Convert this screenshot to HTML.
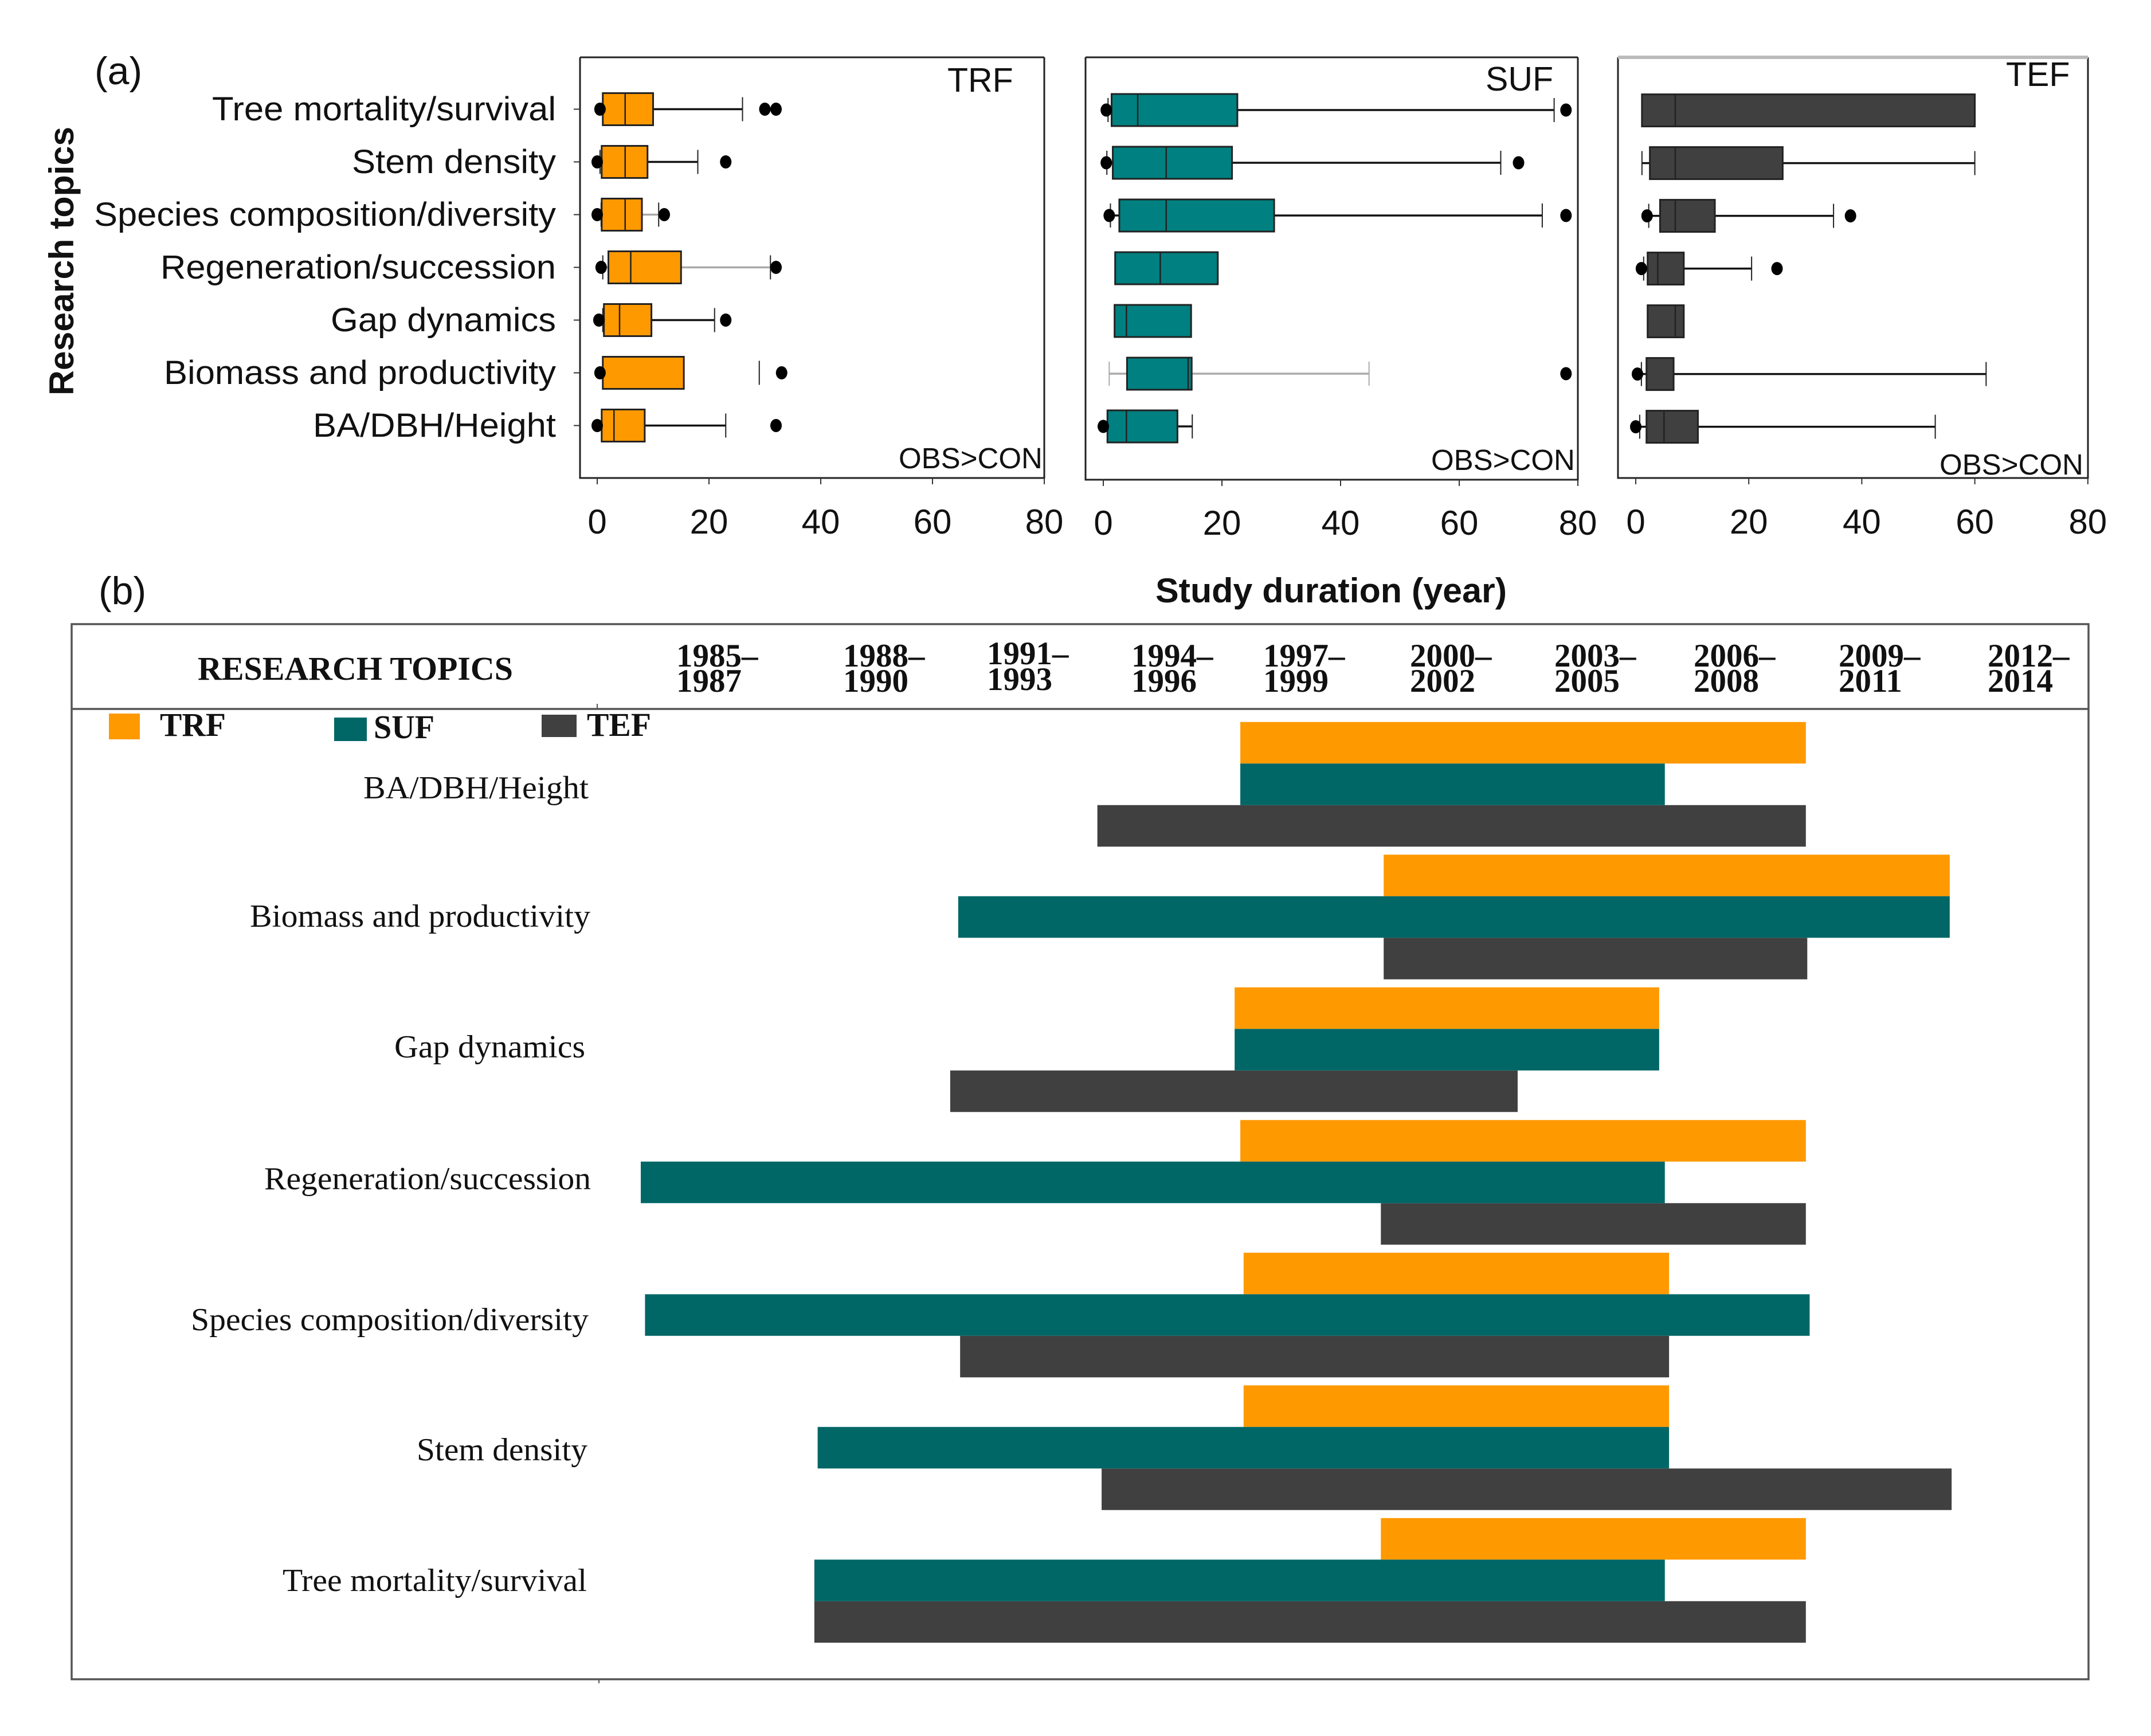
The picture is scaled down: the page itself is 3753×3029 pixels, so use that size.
<!DOCTYPE html>
<html lang="en">
<head>
<meta charset="utf-8">
<title>Study duration and research period by topic</title>
<style>
html,body{margin:0;padding:0;background:#fff;}
svg{display:block;}
.sans{font-family:"Liberation Sans",Arial,sans-serif;fill:#111;}
.serif{font-family:"Liberation Serif","Times New Roman",serif;fill:#111;}
.yr{font-family:"Liberation Serif","Times New Roman",serif;font-weight:bold;font-size:57px;fill:#111;}
.tp{font-family:"Liberation Serif","Times New Roman",serif;font-size:56px;fill:#111;}
.cat{font-family:"Liberation Sans",Arial,sans-serif;font-size:58px;fill:#111;}
</style>
</head>
<body>
<svg id="chart" xmlns="http://www.w3.org/2000/svg" width="3753" height="3029" viewBox="0 0 3753 3029">
  <rect x="0" y="0" width="3753" height="3029" fill="#fff"/>

  <text class="sans" x="165" y="147" font-size="68">(a)</text>
  <text class="sans" x="172" y="1054" font-size="68">(b)</text>
  <text class="sans" font-weight="bold" font-size="60" transform="translate(128 690) rotate(-90)" textLength="469" lengthAdjust="spacingAndGlyphs">Research topics</text>
  <text class="sans" font-weight="bold" font-size="60" x="2016" y="1051" textLength="613" lengthAdjust="spacingAndGlyphs">Study duration (year)</text>

  <g>
    <text class="cat" x="370" y="210" textLength="600" lengthAdjust="spacingAndGlyphs">Tree mortality/survival</text>
    <text class="cat" x="614" y="302" textLength="356" lengthAdjust="spacingAndGlyphs">Stem density</text>
    <text class="cat" x="164" y="394" textLength="806" lengthAdjust="spacingAndGlyphs">Species composition/diversity</text>
    <text class="cat" x="280" y="486" textLength="690" lengthAdjust="spacingAndGlyphs">Regeneration/succession</text>
    <text class="cat" x="577" y="578" textLength="393" lengthAdjust="spacingAndGlyphs">Gap dynamics</text>
    <text class="cat" x="286" y="670" textLength="684" lengthAdjust="spacingAndGlyphs">Biomass and productivity</text>
    <text class="cat" x="546" y="762" textLength="424" lengthAdjust="spacingAndGlyphs">BA/DBH/Height</text>
  </g>

  <text class="sans" x="1653" y="160" font-size="59">TRF</text>
  <text class="sans" x="2592" y="158" font-size="59">SUF</text>
  <text class="sans" x="3500" y="150" font-size="59">TEF</text>
  <text class="sans" x="1568" y="817" font-size="51">OBS&gt;CON</text>
  <text class="sans" x="2497" y="820" font-size="51">OBS&gt;CON</text>
  <text class="sans" x="3384" y="828" font-size="51">OBS&gt;CON</text>

  <g id="boxplots"></g>

  <g fill="none" stroke="#555" stroke-width="3.5">
    <rect x="125" y="1089" width="3519" height="1841"/>
    <line x1="125" y1="1237" x2="3644" y2="1237"/>
    <line x1="1045" y1="2930" x2="1045" y2="2937" stroke-width="2"/>
    <line x1="1042" y1="1236" x2="1042" y2="1228" stroke-width="2"/>
  </g>

  <text class="serif" font-weight="bold" font-size="58" x="345" y="1186" textLength="550" lengthAdjust="spacingAndGlyphs">RESEARCH TOPICS</text>

  <g>
    <text class="yr" x="1180" y="1163">1985–</text><text class="yr" x="1180" y="1207">1987</text>
    <text class="yr" x="1471" y="1163">1988–</text><text class="yr" x="1471" y="1207">1990</text>
    <text class="yr" x="1722" y="1159">1991–</text><text class="yr" x="1722" y="1204">1993</text>
    <text class="yr" x="1974" y="1163">1994–</text><text class="yr" x="1974" y="1207">1996</text>
    <text class="yr" x="2204" y="1163">1997–</text><text class="yr" x="2204" y="1207">1999</text>
    <text class="yr" x="2460" y="1163">2000–</text><text class="yr" x="2460" y="1207">2002</text>
    <text class="yr" x="2712" y="1163">2003–</text><text class="yr" x="2712" y="1207">2005</text>
    <text class="yr" x="2955" y="1163">2006–</text><text class="yr" x="2955" y="1207">2008</text>
    <text class="yr" x="3208" y="1163">2009–</text><text class="yr" x="3208" y="1207">2011</text>
    <text class="yr" x="3468" y="1163">2012–</text><text class="yr" x="3468" y="1207">2014</text>
  </g>

  <g>
    <rect x="190" y="1245" width="54" height="45" fill="#FF9900"/>
    <text class="serif" font-weight="bold" font-size="58" x="279" y="1284" textLength="115" lengthAdjust="spacingAndGlyphs">TRF</text>
    <rect x="583" y="1252" width="57" height="41" fill="#006666"/>
    <text class="serif" font-weight="bold" font-size="58" x="652" y="1288" textLength="106" lengthAdjust="spacingAndGlyphs">SUF</text>
    <rect x="945" y="1247" width="61" height="39" fill="#404040"/>
    <text class="serif" font-weight="bold" font-size="58" x="1024" y="1284" textLength="112" lengthAdjust="spacingAndGlyphs">TEF</text>
  </g>

  <g>
    <text class="tp" x="634" y="1393" textLength="393" lengthAdjust="spacingAndGlyphs">BA/DBH/Height</text>
    <text class="tp" x="436" y="1617" textLength="594" lengthAdjust="spacingAndGlyphs">Biomass and productivity</text>
    <text class="tp" x="688" y="1845" textLength="333" lengthAdjust="spacingAndGlyphs">Gap dynamics</text>
    <text class="tp" x="461" y="2075" textLength="570" lengthAdjust="spacingAndGlyphs">Regeneration/succession</text>
    <text class="tp" x="333" y="2321" textLength="694" lengthAdjust="spacingAndGlyphs">Species composition/diversity</text>
    <text class="tp" x="727" y="2548" textLength="298" lengthAdjust="spacingAndGlyphs">Stem density</text>
    <text class="tp" x="493" y="2776" textLength="531" lengthAdjust="spacingAndGlyphs">Tree mortality/survival</text>
  </g>

  <g id="timeline"></g>
</svg>

<script>
// ---- Panel (a) data: rows run top to bottom ----
const boxCategories = ['Tree mortality/survival','Stem density','Species composition/diversity','Regeneration/succession','Gap dynamics','Biomass and productivity','BA/DBH/Height'];
const xTickLabels = [0, 20, 40, 60, 80];

const trfLow      = [1, 0.5, 0.7, 1, 1, 1, 0.8];
const trfQ1       = [1, 0.8, 0.8, 2, 1.2, 1, 0.8];
const trfMedian   = [5, 5, 5, 6, 4, 1, 3];
const trfQ3       = [10, 9, 8, 15, 9.7, 15.5, 8.5];
const trfHigh     = [26, 18, 11, 31, 21, 29, 23];
const trfOutliers = [[0.5, 30, 32], [0, 23], [0, 12], [0.7, 32], [0.3, 23], [0.5, 33], [0, 32]];

const sufLow      = [0.8, 0.6, 1.2, null, null, 1, null];
const sufQ1       = [1.4, 1.6, 2.7, 2, 1.9, 4, 0.7];
const sufMedian   = [5.8, 10.6, 10.6, 9.6, 3.9, 14.3, 3.9];
const sufQ3       = [22.6, 21.7, 28.8, 19.3, 14.8, 14.9, 12.5];
const sufHigh     = [76, 67, 74, null, null, 44.8, 15];
const sufOutliers = [[0.5, 78], [0.5, 70], [1, 78], [], [], [78], [0]];

const tefLow      = [null, 1.1, 2.3, 1.4, null, 1, 0.7];
const tefQ1       = [1.1, 2.5, 4.3, 2.1, 2.1, 1.9, 1.9];
const tefMedian   = [7, 7, 7, 3.9, 7, 1.9, 5];
const tefQ3       = [60, 26, 14, 8.5, 8.5, 6.7, 11];
const tefHigh     = [null, 60, 35, 20.5, null, 62, 53];
const tefOutliers = [[], [], [2, 38], [1, 25], [], [0.3], [0]];

// ---- Panel (b) data: period each topic was studied, in calendar years ----
const timelineTopics = ['BA/DBH/Height','Biomass and productivity','Gap dynamics','Regeneration/succession','Species composition/diversity','Stem density','Tree mortality/survival'];
const trfStart = [1997.71, 2000.75, 1997.59, 1997.71, 1997.78, 1997.78, 2000.69];
const trfEnd   = [2009.70, 2012.75, 2006.59, 2009.70, 2006.80, 2006.80, 2009.70];
const sufStart = [1997.71, 1991.73, 1997.59, 1985.00, 1985.09, 1988.75, 1988.68];
const sufEnd   = [2006.71, 2012.75, 2006.59, 2006.71, 2009.78, 2006.80, 2006.71];
const tefStart = [1994.68, 2000.75, 1991.56, 2000.69, 1991.77, 1994.77, 1988.68];
const tefEnd   = [2009.70, 2009.73, 2003.59, 2009.70, 2006.80, 2012.79, 2009.70];

// ---- Rendering ----
const NS = 'http://www.w3.org/2000/svg';
function make(parent, tag, geom) {
  const el = document.createElementNS(NS, tag);
  for (const k in geom) el.setAttribute(k, geom[k]);
  parent.appendChild(el);
  return el;
}

const panelLayouts = [
  {key:'trf', fill:'#FF9900', left:1012, right:1822, top:100, bottom:834, zero:1042, unit:9.75, rowStart:190.5, rowStep:92,
   low:trfLow, q1:trfQ1, med:trfMedian, q3:trfQ3, high:trfHigh, out:trfOutliers, faded:[2,3], noLine:[5], yTicks:true, frame:'#222', topFrame:'#222', labelY:931},
  {key:'suf', fill:'#008080', left:1894, right:2753, top:100, bottom:837, zero:1925, unit:10.35, rowStart:192, rowStep:92,
   low:sufLow, q1:sufQ1, med:sufMedian, q3:sufQ3, high:sufHigh, out:sufOutliers, faded:[5], noLine:[], yTicks:false, frame:'#222', topFrame:'#222', labelY:933},
  {key:'tef', fill:'#404040', left:2823, right:3643, top:100, bottom:834, zero:2854, unit:9.86, rowStart:192.6, rowStep:92,
   low:tefLow, q1:tefQ1, med:tefMedian, q3:tefQ3, high:tefHigh, out:tefOutliers, faded:[], noLine:[], yTicks:false, frame:'#222', topFrame:'#bbb', labelY:931}
];

const boxRoot = document.getElementById('boxplots');
panelLayouts.forEach(function (p) {
  const xScale = function (v) { return p.zero + v * p.unit; };
  const yScale = function (i) { return p.rowStart + i * p.rowStep; };

  const g = make(boxRoot, 'g', {});
  
  

  const frame = make(g, 'path', {d:'M' + p.left + ' ' + p.top + 'V' + p.bottom + 'H' + p.right + 'V' + p.top, fill:'none', stroke:p.frame, 'stroke-width':3});
  
  

  const topEdge = make(g, 'line', {x1:p.left, x2:p.right, y1:p.top, y2:p.top, stroke:p.topFrame, 'stroke-width':p.topFrame === '#bbb' ? 6 : 3});
  
  

  xTickLabels.forEach(function (t) {
    const tick = make(g, 'line', {x1:xScale(t), x2:xScale(t), y1:p.bottom, y2:p.bottom + 11, stroke:'#333', 'stroke-width':2});
    
    

    const lbl = make(g, 'text', {x:xScale(t), y:p.labelY, 'text-anchor':'middle', 'font-size':60, 'class':'sans'});
    
    
    lbl.textContent = t;
  });

  boxCategories.forEach(function (cat, i) {
    const y = yScale(i);
    const row = make(g, 'g', {});
    
    

    if (p.yTicks) {
      const yt = make(row, 'line', {x1:p.left - 11, x2:p.left, y1:y, y2:y, stroke:'#333', 'stroke-width':2});
      
      
    }

    const tone = p.faded.indexOf(i) >= 0 ? '#aaa' : '#111';
    const capTone = p.key === 'suf' && i === 5 ? '#aaa' : '#222';
    const lo = p.low[i], hi = p.high[i];

    if (hi !== null && p.noLine.indexOf(i) < 0) {
      const wh = make(row, 'line', {x1:xScale(p.q3[i]), x2:xScale(hi), y1:y, y2:y, stroke:tone, 'stroke-width':3.5});
      
      
    }
    if (hi !== null) {
      const hc = make(row, 'line', {x1:xScale(hi), x2:xScale(hi), y1:y - 21, y2:y + 21, stroke:capTone, 'stroke-width':2});
      
      
    }
    if (lo !== null) {
      const wl = make(row, 'line', {x1:xScale(lo), x2:xScale(p.q1[i]), y1:y, y2:y, stroke:tone, 'stroke-width':3.5});
      
      
      const lc = make(row, 'line', {x1:xScale(lo), x2:xScale(lo), y1:y - 21, y2:y + 21, stroke:capTone, 'stroke-width':2});
      
      
    }

    const box = make(row, 'rect', {x:xScale(p.q1[i]), y:y - 28, width:xScale(p.q3[i]) - xScale(p.q1[i]), height:56, fill:p.fill, stroke:'#222', 'stroke-width':3});
    
    

    const med = make(row, 'line', {x1:xScale(p.med[i]), x2:xScale(p.med[i]), y1:y - 28, y2:y + 28, stroke:'#222', 'stroke-width':2.5});
    
    

    p.out[i].forEach(function (v) {
      const dot = make(row, 'ellipse', {cx:xScale(v), cy:y, rx:10, ry:11.5, fill:'#000'});
      
      
    });
  });
});

const barColors = {trf:'#FF9900', suf:'#006666', tef:'#404040'};
const timelineX = function (year) { return 1118 + (year - 1985) * 82.3; };
const timelineRowY = function (i) { return 2063 + (i - 3) * 231.5; };
const bandHeight = 72.5;
const timelineRoot = document.getElementById('timeline');

timelineTopics.forEach(function (topic, i) {
  const top = timelineRowY(i) - bandHeight * 1.5;

  const trfBar = make(timelineRoot, 'rect', {x:timelineX(trfStart[i]), y:top, width:timelineX(trfEnd[i]) - timelineX(trfStart[i]), height:bandHeight, fill:barColors.trf});
  
  

  const tefBar = make(timelineRoot, 'rect', {x:timelineX(tefStart[i]), y:top + bandHeight * 2, width:timelineX(tefEnd[i]) - timelineX(tefStart[i]), height:bandHeight, fill:barColors.tef});
  
  

  const sufBar = make(timelineRoot, 'rect', {x:timelineX(sufStart[i]), y:top + bandHeight, width:timelineX(sufEnd[i]) - timelineX(sufStart[i]), height:bandHeight, fill:barColors.suf});
  
  
});
</script>
</body>
</html>
